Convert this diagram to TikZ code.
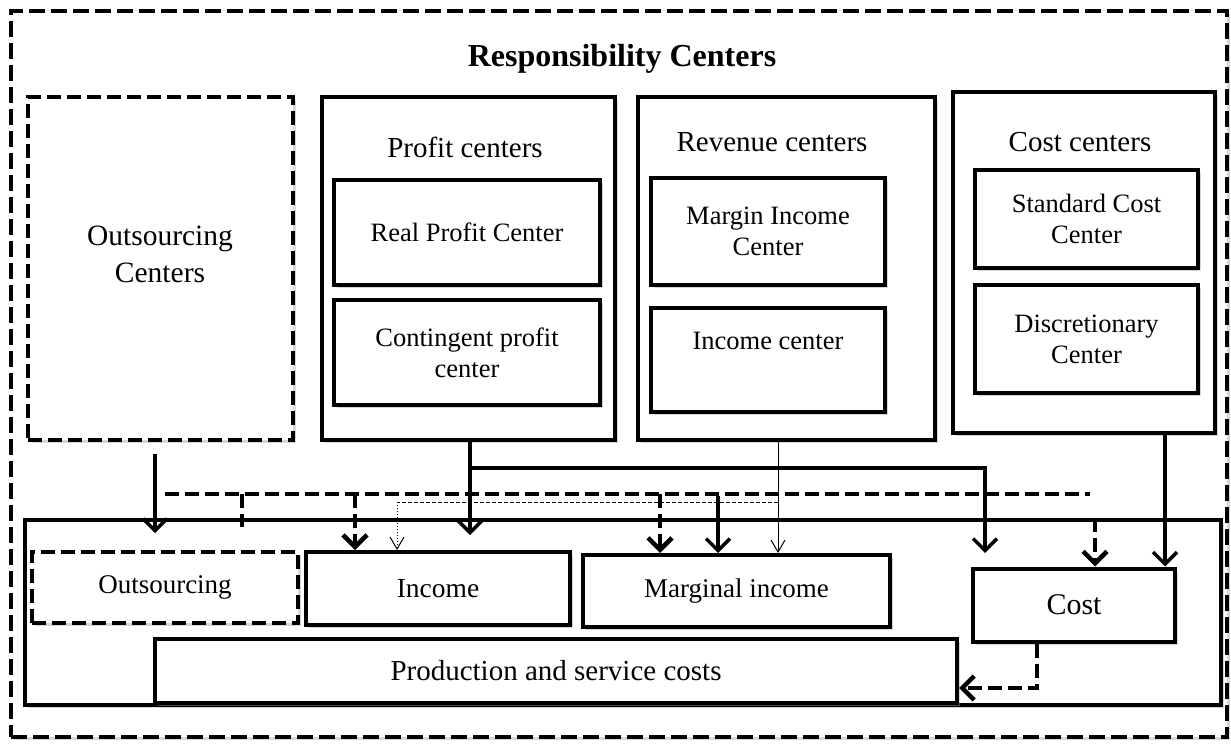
\documentclass[tikz,border=0pt]{standalone}
\usepackage{fontspec}
\setmainfont{Liberation Serif}
\usetikzlibrary{arrows.meta,calc,shadows}
\begin{document}
\begin{tikzpicture}[x=1pt,y=-1pt,
  bx/.style={draw, line width=4pt, fill=white, inner sep=0pt, align=center, font=\fontsize{26.5}{31}\selectfont,
    drop shadow={shadow xshift=3pt, shadow yshift=-3pt, fill=black!35, opacity=0.45}},
  dbx/.style={bx, dash pattern=on 14pt off 6pt},
  lbl/.style={inner sep=0pt, align=center, font=\fontsize{26.5}{31}\selectfont},
  tip/.style={-{Straight Barb[length=12pt,width=24pt]}},
  thin tip/.style={-{Straight Barb[length=12pt,width=14pt]}},
  sol/.style={line width=3.5pt, tip},
  dsh/.style={line width=4.5pt, dash pattern=on 14pt off 6pt},
  thn/.style={line width=1pt, thin tip}
]
\useasboundingbox (0,0) rectangle (1231,744);
% outer frame
\node[draw, line width=4.5pt, dash pattern=on 16pt off 6pt, fill=white, inner sep=0pt,
  minimum width=1216pt, minimum height=726pt,
  drop shadow={shadow xshift=3pt, shadow yshift=-3pt, fill=black!35, opacity=0.45}] (outer) at (619,374) {};
\node[lbl, font=\fontsize{32}{36}\selectfont\bfseries] (title) at (622,59) {Responsibility Centers};

% upper boxes
\node[dbx, minimum width=265pt, minimum height=343pt] (oc) at (160.5,268.5) {};
\node[lbl, font=\fontsize{29.5}{37}\selectfont] (octxt) at (160,254) {Outsourcing\\Centers};

\node[bx, minimum width=293pt, minimum height=343pt] (pc) at (468.5,268.5) {};
\node[lbl, font=\fontsize{29}{30}\selectfont] (pctxt) at (465,147) {Profit centers};
\node[bx, minimum width=266pt, minimum height=105pt] (rpc) at (467,232.5) {Real Profit Center};
\node[bx, minimum width=266pt, minimum height=105pt] (cpc) at (467,352.5) {Contingent profit\\center};

\node[bx, minimum width=297pt, minimum height=343pt] (rc) at (786.5,268.5) {};
\node[lbl, font=\fontsize{29}{30}\selectfont] (rctxt) at (772,142) {Revenue centers};
\node[bx, minimum width=234pt, minimum height=107pt] (mic) at (768,231.5) {Margin Income\\Center};
\node[bx, minimum width=234pt, minimum height=104pt] (ic) at (768,360) {};
\node[lbl] (ictxt) at (768,341) {Income center};

\node[bx, minimum width=262pt, minimum height=341pt] (cc) at (1084,262.5) {};
\node[lbl, font=\fontsize{29}{30}\selectfont] (cctxt) at (1080,142) {Cost centers};
\node[bx, minimum width=223pt, minimum height=98pt] (scc) at (1086.5,219) {Standard Cost\\Center};
\node[bx, minimum width=223pt, minimum height=108pt] (dc) at (1086.5,339) {Discretionary\\Center};

% lower container
\node[bx, minimum width=1196pt, minimum height=185pt] (big) at (623,612.5) {};
\node[dbx, minimum width=266pt, minimum height=71pt, font=\fontsize{27}{30}\selectfont] (out) at (165,587.5) {Outsourcing};
\node[bx, minimum width=264pt, minimum height=73pt, font=\fontsize{27.5}{30}\selectfont] (inc) at (438,588.5) {Income};
\node[bx, minimum width=307pt, minimum height=72pt, font=\fontsize{27}{30}\selectfont] (mi) at (736.5,591) {Marginal income};
\node[bx, minimum width=202pt, minimum height=73pt, font=\fontsize{30}{30}\selectfont] (cost) at (1074,605) {Cost};
\node[bx, minimum width=802pt, minimum height=64pt, font=\fontsize{29}{30}\selectfont] (psc) at (556,671) {Production and service costs};

% connectors
\coordinate (d0) at (165,494);
\coordinate (d1) at (1090,494);
\coordinate (pb) at (470,468);
\coordinate (pbe) at (985,553);
\coordinate (tl) at (778,502);
\coordinate (tr) at (397,502);
\coordinate (cb) at (1037,688);

\draw[sol] ([xshift=-5.5pt,yshift=-12pt]oc.south) -- ++(0,79);
\draw[sol] ([xshift=1.5pt]pc.south) -- ++(0,93);
\draw[sol] (pb) -| (pbe);
\draw[dsh] (d0) -- (d1);
\draw[dsh] (242,494) -- (242,527);
\draw[dsh, tip] (355,494) -- (355,0 |- inc.north);
\draw[dsh, tip] (660,494) -- (660,0 |- mi.north);
\draw[sol] (718,496) -- (718,0 |- mi.north);
\draw[dsh, tip] (1095,518) -- (1095,0 |- cost.north);
\draw[thn] (778,0 |- rc.south) -- (778,0 |- mi.north);
\draw[line width=1pt, dash pattern=on 4pt off 2pt] (tl) -- (tr);
\draw[line width=1pt, dotted, thin tip] (tr) -- (397,0 |- inc.north);
\draw[sol] (1165,0 |- cc.south) -- (1165,0 |- cost.north);
\draw[dsh, tip] (1037,0 |- cost.south) -- (cb) -- (cb -| psc.east);
\end{tikzpicture}
\end{document}
